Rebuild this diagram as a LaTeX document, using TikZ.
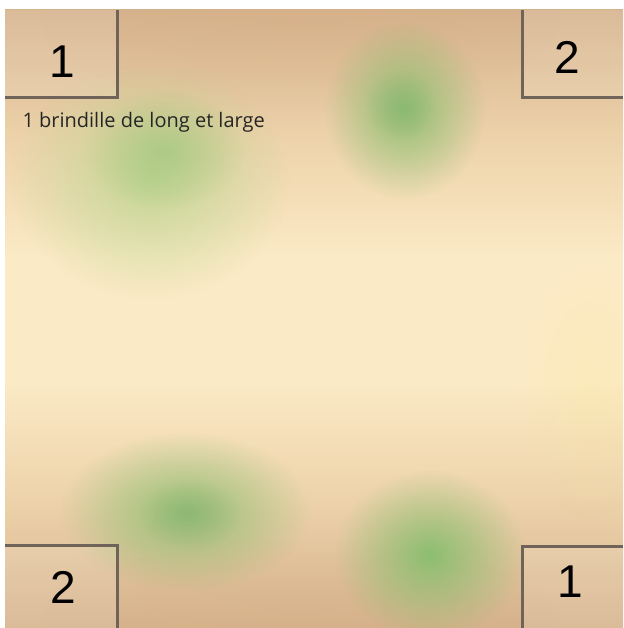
\documentclass[tikz,border=0pt]{standalone}
\usepackage{fontspec}
\setmainfont{Liberation Sans}
\newfontfamily\notefont{Open Sans}
\usetikzlibrary{fadings}

\definecolor{sandtan}{RGB}{214,178,140}
\definecolor{sandmid}{RGB}{238,212,172}
\definecolor{sandlight}{RGB}{251,234,198}
\definecolor{mossgreen}{RGB}{135,190,110}
\definecolor{mosspale}{RGB}{180,212,138}
\definecolor{edgegray}{RGB}{112,100,90}
\pgfdeclareverticalshading{groundshade}{100bp}{color(0bp)=(sandtan); color(25bp)=(sandtan); color(36bp)=(sandmid); color(45bp)=(sandlight); color(55bp)=(sandlight); color(64bp)=(sandmid); color(75bp)=(sandtan); color(100bp)=(sandtan)}
\tikzfading[name=blobfade, inner color=transparent!0, outer color=transparent!100]
\tikzset{
  corner/.style={draw=edgegray, line width=3pt},
  numlabel/.style={font=\fontsize{46}{46}\selectfont, text=black},
  moss/.style={fill=mossgreen, path fading=blobfade}
}

\begin{document}
\begin{tikzpicture}[x=1pt, y=-1pt]
  \useasboundingbox (0,0) rectangle (623,628);
  \begin{scope}
  \clip (5,10) rectangle (623,628);
  % ground
  \shade[shading=groundshade] (5,10) rectangle (623,628);
  \fill[sandtan!90!brown, path fading=blobfade, fill opacity=.3] (300,20) ellipse (260 and 90);
  \fill[sandtan!90!brown, path fading=blobfade, fill opacity=.25] (300,620) ellipse (260 and 80);
  \fill[yellow!25!sandlight, path fading=blobfade, fill opacity=.25] (590,390) ellipse (70 and 130);
  % green patches
  \fill[moss, fill=mosspale, fill opacity=.75] (150,180) ellipse (140 and 120);
  \fill[moss, fill opacity=.45] (165,150) ellipse (80 and 60);
  \fill[moss, fill opacity=.9] (405,110) ellipse (80 and 90);
  \fill[moss, fill=mossgreen!80!gray, fill opacity=.45] (400,105) ellipse (35 and 35);
  \fill[moss, fill opacity=.85] (185,512) ellipse (125 and 80);
  \fill[moss, fill=mossgreen!75!gray, fill opacity=.45] (190,515) ellipse (50 and 35);
  \fill[moss, fill opacity=.95] (430,555) ellipse (95 and 85);
  \end{scope}
  % corner boxes
  \fill[white, fill opacity=.12] (5,10) rectangle (117,98);
  \fill[white, fill opacity=.12] (522,10) rectangle (623,98);
  \fill[white, fill opacity=.12] (5,545) rectangle (117,628);
  \fill[white, fill opacity=.12] (522,546) rectangle (623,628);
  \draw[corner] (117,10) -- (117,98) -- (5,98);
  \draw[corner] (522,10) -- (522,98) -- (623,98);
  \draw[corner] (5,545) -- (117,545) -- (117,628);
  \draw[corner] (623,546) -- (522,546) -- (522,628);
  \node[numlabel] (topleft) at (62,62) {1};
  \node[numlabel] (topright) at (567,57) {2};
  \node[numlabel] (bottomleft) at (63,587) {2};
  \node[numlabel] (bottomright) at (570,582) {1};
  \node[anchor=west, font=\notefont\fontsize{20}{20}\selectfont, text=black!85] (note) at (19,122) {1 brindille de long et large};
\end{tikzpicture}
\end{document}
